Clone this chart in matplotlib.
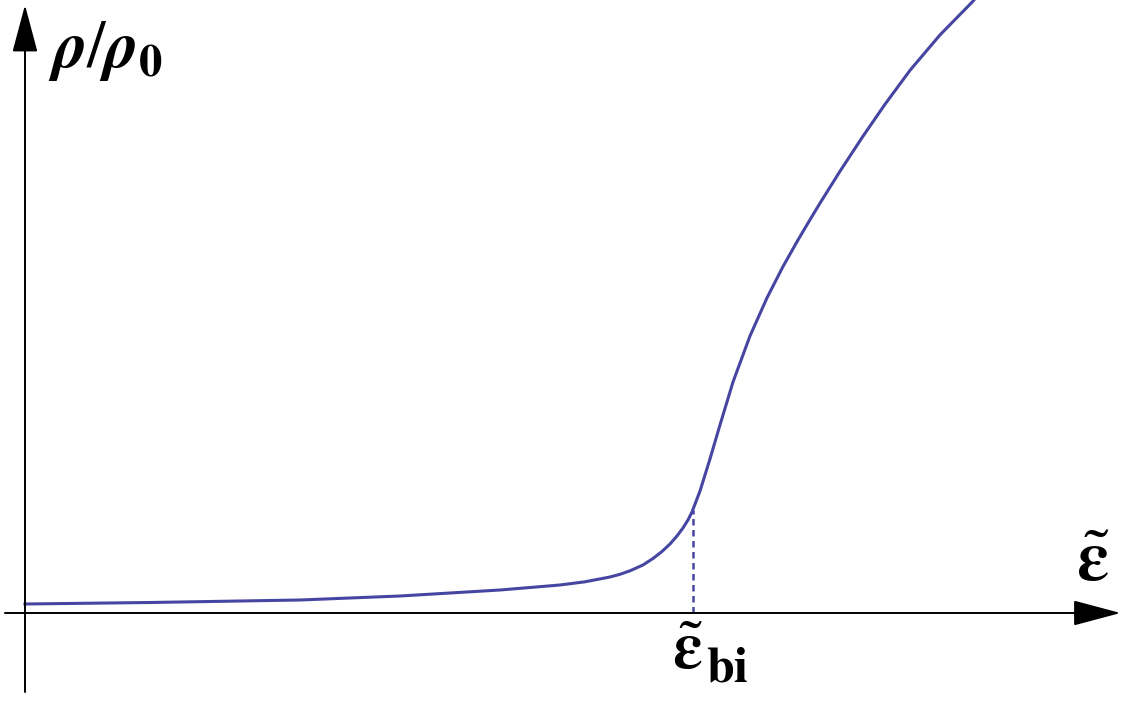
import numpy as np
import matplotlib
matplotlib.use("Agg")
import matplotlib.pyplot as plt

# ===============================================================================
# curve: x = eps / eps_bi, y = rho / rho0 (arbitrary units)

eps = [0.0000, 0.1871, 0.4117, 0.5614, 0.7111, 0.8009, 0.8383, 0.8757, 0.8907,
       0.9057, 0.9251, 0.9401, 0.9536, 0.9656, 0.9760, 0.9850, 0.9925, 0.9985,
       1.0105, 1.0254, 1.0404, 1.0599, 1.0853, 1.1108, 1.1347, 1.1557, 1.1722,
       1.1901, 1.2201, 1.2545, 1.2874, 1.3249, 1.3698, 1.4192, 1.4266]
rho = [0.090, 0.105, 0.130, 0.170, 0.230, 0.280, 0.312, 0.360, 0.387,
       0.422, 0.480, 0.545, 0.615, 0.690, 0.770, 0.850, 0.930, 1.010,
       1.220, 1.540, 1.880, 2.310, 2.770, 3.152, 3.464, 3.713, 3.900,
       4.098, 4.418, 4.768, 5.087, 5.427, 5.781, 6.118, 6.180]

eps_bi = 1.0
rho_bi = 1.03

xAxisRange = (-0.03, 1.64)
yAxisRange = (-0.79, 6.08)

# ===============================================================================

plt.rcParams['mathtext.fontset'] = 'stix'

clr = '#4646a2'

fig = plt.figure(figsize=(11.29, 7.01), dpi=100)
ax = fig.add_axes([0, 0, 1, 1])
ax.set_xlim(-0.0374, 1.6527)
ax.set_ylim(-0.88, 6.13)
ax.axis('off')

ax.plot(eps, rho, c=clr, lw=2.2, solid_joinstyle='round')
ax.plot([eps_bi, eps_bi], [0, rho_bi], c=clr, lw=1.8, ls=(0, (2.6, 1.8)))

arrow = dict(arrowstyle='-|>,head_length=3.0,head_width=0.8', color='black',
             lw=1.4, shrinkA=0, shrinkB=0)
ax.annotate('', xy=(xAxisRange[1], 0), xytext=(xAxisRange[0], 0), arrowprops=arrow)
ax.annotate('', xy=(0, yAxisRange[1]), xytext=(0, yAxisRange[0]), arrowprops=arrow)

# labels
ax.text(0.034, 5.63, r'$\mathbfit{\rho}/\mathbfit{\rho}_\mathbf{0}$', fontsize=48,
        ha='left', va='center')
ax.text(1.599, 0.52, r'$\tilde{\mathbf{\varepsilon}}$', fontsize=52,
        ha='center', va='center')
ax.text(eps_bi - 0.0075, -0.37, r'$\tilde{\mathbf{\varepsilon}}$', fontsize=48,
        ha='center', va='center')
ax.text(eps_bi + 0.019, -0.68, r'$\mathbf{bi}$', fontsize=36,
        ha='left', va='baseline')

plt.savefig('out.png', dpi=100)
